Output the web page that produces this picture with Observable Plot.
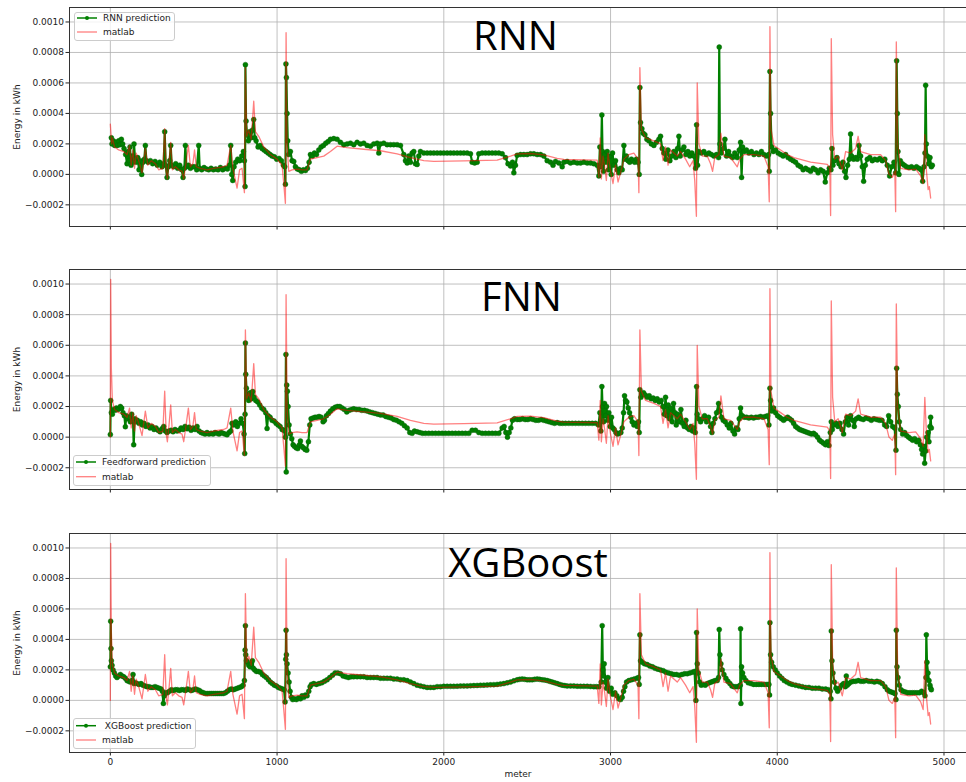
<!DOCTYPE html>
<html><head><meta charset="utf-8">
<script src="https://cdn.jsdelivr.net/npm/d3@7"></script>
<script src="https://cdn.jsdelivr.net/npm/@observablehq/plot@0.6"></script>
<style>
body{margin:0;background:#fff;}
#fig{position:relative;width:966px;height:782px;overflow:hidden;background:#fff;font-family:"DejaVu Sans",sans-serif;}
.panel{position:absolute;left:0;}
.title{position:absolute;font-family:"Open Sans",sans-serif;font-size:40px;line-height:40px;color:#000;transform:translateX(-50%);white-space:nowrap;}
.legend{position:absolute;}
</style></head><body><div id="fig"></div>
<script>
// ---------------- data (x in meter, y in kWh) ----------------
const xTicks = [0, 1000, 2000, 3000, 4000, 5000];
const yTicks = [-0.0002, 0, 0.0002, 0.0004, 0.0006, 0.0008, 0.0010];
const xDomain = [-245, 5135];
const yDomain = [-0.000342, 0.001095];
const titles = ["RNN", "FNN", "XGBoost"];
const predLabels = ["RNN prediction", "Feedforward prediction", " XGBoost prediction"];
const refLabel = "matlab";

const matlab = [[0,0],[2,10.3e-4],[6,4.5e-4],[12,2.4e-4],[25,1.8e-4],[50,1.6e-4],[80,1.5e-4],[100,1.3e-4],[115,1.9e-4],[125,0.6e-4],[135,1.6e-4],[145,0.4e-4],[155,1.4e-4],[170,0.9e-4],[190,0.1e-4],[210,1.7e-4],[225,0.6e-4],[245,0.9e-4],[270,0.7e-4],[290,0.3e-4],[315,0.4e-4],[326,3.0e-4],[335,0.2e-4],[342,-0.3e-4],[352,0.8e-4],[362,2.1e-4],[372,0.3e-4],[390,0.5e-4],[410,0.3e-4],[430,0.2e-4],[440,-0.3e-4],[452,0.6e-4],[468,1.9e-4],[480,0.5e-4],[495,0.7e-4],[505,1.6e-4],[515,0.5e-4],[540,0.4e-4],[580,0.3e-4],[620,0.4e-4],[680,0.5e-4],[700,0.6e-4],[722,1.9e-4],[735,0.4e-4],[760,-0.9e-4],[775,0.3e-4],[790,0.4e-4],[804,-1.2e-4],[810,7.0e-4],[818,2.5e-4],[830,2.9e-4],[845,2.3e-4],[860,4.8e-4],[870,2.8e-4],[890,2.5e-4],[920,1.8e-4],[960,1.3e-4],[1000,1.0e-4],[1030,0.6e-4],[1040,-0.6e-4],[1050,-1.9e-4],[1054,9.3e-4],[1060,2.0e-4],[1070,0.2e-4],[1090,0.3e-4],[1120,0.35e-4],[1150,0.3e-4],[1180,0.3e-4],[1200,1.0e-4],[1240,1.1e-4],[1280,1.2e-4],[1320,1.5e-4],[1360,1.85e-4],[1420,1.75e-4],[1520,1.65e-4],[1620,1.55e-4],[1720,1.35e-4],[1800,1.1e-4],[1880,0.9e-4],[1940,0.85e-4],[2120,0.88e-4],[2320,0.93e-4],[2400,1.2e-4],[2440,1.35e-4],[2520,1.37e-4],[2600,1.28e-4],[2680,1.05e-4],[2720,0.98e-4],[2920,0.94e-4],[2930,-0.2e-4],[2938,2.4e-4],[2945,-0.3e-4],[2955,1.2e-4],[2965,0.5e-4],[2975,-0.4e-4],[2985,1.4e-4],[3000,0.2e-4],[3015,-0.6e-4],[3030,0.6e-4],[3045,-0.5e-4],[3060,0.1e-4],[3080,1.0e-4],[3110,1.3e-4],[3140,1.4e-4],[3165,1.0e-4],[3170,-1.2e-4],[3176,7.0e-4],[3185,3.0e-4],[3210,2.4e-4],[3260,2.2e-4],[3300,2.0e-4],[3315,0.9e-4],[3330,1.8e-4],[3345,0.6e-4],[3360,1.6e-4],[3380,1.4e-4],[3400,1.2e-4],[3420,1.5e-4],[3450,1.0e-4],[3475,0.5e-4],[3495,0.9e-4],[3505,-0.4e-4],[3515,-2.75e-4],[3520,6.0e-4],[3530,2.0e-4],[3550,1.2e-4],[3580,1.2e-4],[3600,0.7e-4],[3612,0.2e-4],[3625,1.1e-4],[3650,1.3e-4],[3662,2.7e-4],[3680,1.2e-4],[3720,1.1e-4],[3760,0.5e-4],[3775,1.0e-4],[3800,1.3e-4],[3860,1.3e-4],[3920,1.2e-4],[3945,0.5e-4],[3952,-1.8e-4],[3956,9.7e-4],[3962,3.0e-4],[3980,1.9e-4],[4020,1.6e-4],[4060,1.3e-4],[4100,1.1e-4],[4200,0.8e-4],[4300,0.65e-4],[4315,0.4e-4],[4320,-2.7e-4],[4324,8.9e-4],[4332,2.6e-4],[4345,1.0e-4],[4365,1.2e-4],[4390,0.3e-4],[4410,1.5e-4],[4440,1.4e-4],[4470,1.7e-4],[4485,2.5e-4],[4500,1.5e-4],[4560,1.3e-4],[4620,1.3e-4],[4650,0.9e-4],[4670,0.0],[4690,-0.2e-4],[4705,0.2e-4],[4710,-2.45e-4],[4714,8.7e-4],[4722,2.0e-4],[4740,0.4e-4],[4790,0.3e-4],[4830,0.35e-4],[4860,-0.1e-4],[4875,-0.6e-4],[4885,2.6e-4],[4895,0.2e-4],[4905,-1.0e-4],[4912,-0.8e-4],[4920,-1.55e-4]];

const matlabRnnStart = [[0,3.3e-4],[4,2.6e-4],[8,2.0e-4]];

const rnn = [[6,2.4e-4],[10,2.0e-4],[18,2.2e-4],[26,1.9e-4],[34,2.1e-4],[42,1.9e-4],[50,2.2e-4],[58,1.95e-4],[66,2.3e-4],[74,2.0e-4],[82,1.7e-4],[92,1.3e-4],[100,0.7e-4],[106,1.5e-4],[112,0.9e-4],[118,1.8e-4],[124,0.6e-4],[130,1.2e-4],[136,0.8e-4],[142,2.0e-4],[148,1.0e-4],[156,0.8e-4],[164,1.1e-4],[172,0.3e-4],[180,0.9e-4],[188,0.0],[196,0.8e-4],[204,1.0e-4],[210,1.9e-4],[216,0.9e-4],[226,0.8e-4],[240,0.9e-4],[254,0.7e-4],[268,0.85e-4],[282,0.6e-4],[296,0.8e-4],[310,0.5e-4],[320,0.7e-4],[326,2.8e-4],[332,0.6e-4],[340,-0.2e-4],[348,0.5e-4],[356,0.9e-4],[362,1.9e-4],[368,0.6e-4],[380,0.5e-4],[392,0.7e-4],[404,0.4e-4],[416,0.6e-4],[428,0.3e-4],[436,-0.2e-4],[444,0.4e-4],[450,1.9e-4],[456,0.5e-4],[468,0.6e-4],[480,0.4e-4],[494,0.5e-4],[506,0.5e-4],[518,0.3e-4],[530,1.9e-4],[536,0.4e-4],[548,0.3e-4],[562,0.45e-4],[576,0.35e-4],[590,0.3e-4],[604,0.4e-4],[618,0.3e-4],[632,0.35e-4],[646,0.3e-4],[660,0.45e-4],[674,0.3e-4],[688,0.4e-4],[702,0.35e-4],[714,0.6e-4],[722,1.9e-4],[728,0.0],[734,-0.4e-4],[742,0.5e-4],[752,0.8e-4],[764,1.0e-4],[776,0.9e-4],[788,1.2e-4],[798,1.5e-4],[804,0.9e-4],[808,-0.8e-4],[810,7.2e-4],[814,3.5e-4],[820,2.6e-4],[828,2.2e-4],[836,2.8e-4],[844,2.4e-4],[852,2.9e-4],[860,3.6e-4],[866,2.4e-4],[874,2.2e-4],[886,1.8e-4],[898,1.9e-4],[910,1.7e-4],[922,1.6e-4],[934,1.5e-4],[946,1.4e-4],[958,1.3e-4],[970,1.2e-4],[984,1.15e-4],[998,1.0e-4],[1012,1.05e-4],[1026,0.9e-4],[1038,0.6e-4],[1046,0.5e-4],[1050,-0.65e-4],[1053,7.25e-4],[1056,6.35e-4],[1060,4.0e-4],[1064,2.2e-4],[1070,1.3e-4],[1080,1.5e-4],[1090,0.9e-4],[1100,0.85e-4],[1110,0.5e-4],[1122,0.35e-4],[1134,0.3e-4],[1146,0.2e-4],[1158,0.3e-4],[1170,0.25e-4],[1182,0.4e-4],[1192,0.8e-4],[1200,1.3e-4],[1212,1.2e-4],[1224,1.4e-4],[1236,1.3e-4],[1250,1.6e-4],[1264,1.8e-4],[1278,1.9e-4],[1292,2.05e-4],[1306,2.15e-4],[1320,2.3e-4],[1340,2.35e-4],[1360,2.3e-4],[1380,2.1e-4],[1400,1.95e-4],[1420,2.0e-4],[1440,2.05e-4],[1460,1.95e-4],[1480,2.1e-4],[1500,2.0e-4],[1520,2.05e-4],[1540,1.9e-4],[1560,1.85e-4],[1580,2.0e-4],[1600,2.05e-4],[1610,1.4e-4],[1620,2.0e-4],[1640,2.05e-4],[1660,1.95e-4],[1680,1.95e-4],[1700,1.95e-4],[1720,1.95e-4],[1740,1.9e-4],[1760,1.3e-4],[1770,0.9e-4],[1780,0.75e-4],[1790,1.2e-4],[1800,0.8e-4],[1810,1.4e-4],[1820,1.5e-4],[1830,0.7e-4],[1840,0.65e-4],[1850,1.2e-4],[1860,1.5e-4],[1880,1.4e-4],[1900,1.4e-4],[1920,1.4e-4],[1940,1.4e-4],[1960,1.4e-4],[1980,1.4e-4],[2000,1.4e-4],[2020,1.4e-4],[2040,1.4e-4],[2060,1.4e-4],[2080,1.4e-4],[2100,1.4e-4],[2120,1.4e-4],[2140,1.4e-4],[2160,1.35e-4],[2170,0.8e-4],[2185,0.75e-4],[2200,0.8e-4],[2210,1.35e-4],[2230,1.4e-4],[2250,1.4e-4],[2270,1.4e-4],[2290,1.4e-4],[2310,1.4e-4],[2330,1.4e-4],[2350,1.35e-4],[2370,1.1e-4],[2385,0.7e-4],[2400,0.55e-4],[2412,0.8e-4],[2420,0.1e-4],[2430,0.6e-4],[2440,1.25e-4],[2460,1.3e-4],[2480,1.3e-4],[2500,1.3e-4],[2520,1.35e-4],[2540,1.35e-4],[2560,1.3e-4],[2580,1.3e-4],[2600,1.2e-4],[2620,0.9e-4],[2640,0.8e-4],[2655,0.6e-4],[2670,0.85e-4],[2690,0.75e-4],[2710,0.5e-4],[2720,0.8e-4],[2740,0.85e-4],[2760,0.75e-4],[2780,0.8e-4],[2800,0.75e-4],[2820,0.75e-4],[2840,0.8e-4],[2860,0.75e-4],[2880,0.75e-4],[2900,0.7e-4],[2920,0.6e-4],[2930,-0.1e-4],[2936,1.8e-4],[2942,0.5e-4],[2948,3.9e-4],[2952,1.5e-4],[2958,0.2e-4],[2964,1.3e-4],[2972,0.8e-4],[2980,1.5e-4],[2988,0.3e-4],[2996,1.2e-4],[3004,0.0],[3012,1.4e-4],[3020,0.6e-4],[3030,0.9e-4],[3040,0.3e-4],[3050,0.1e-4],[3060,0.4e-4],[3070,0.3e-4],[3080,1.9e-4],[3086,1.0e-4],[3095,1.2e-4],[3105,0.9e-4],[3115,0.8e-4],[3125,1.0e-4],[3135,0.9e-4],[3145,0.8e-4],[3155,1.0e-4],[3165,0.8e-4],[3172,0.0],[3176,5.7e-4],[3180,3.4e-4],[3188,3.0e-4],[3196,2.7e-4],[3206,2.6e-4],[3218,2.3e-4],[3230,2.2e-4],[3245,2.0e-4],[3260,1.9e-4],[3275,2.1e-4],[3290,2.3e-4],[3300,2.5e-4],[3310,1.7e-4],[3320,1.4e-4],[3332,1.0e-4],[3344,1.6e-4],[3356,0.9e-4],[3368,1.2e-4],[3380,1.5e-4],[3392,1.1e-4],[3402,1.7e-4],[3410,2.5e-4],[3418,1.2e-4],[3428,1.6e-4],[3440,1.8e-4],[3452,1.3e-4],[3464,1.5e-4],[3476,1.2e-4],[3488,1.4e-4],[3500,1.2e-4],[3510,0.4e-4],[3516,3.25e-4],[3522,0.6e-4],[3530,1.5e-4],[3545,1.4e-4],[3560,1.5e-4],[3575,1.3e-4],[3590,1.4e-4],[3605,1.3e-4],[3620,1.2e-4],[3635,1.3e-4],[3648,1.1e-4],[3652,8.35e-4],[3656,2.0e-4],[3664,1.4e-4],[3676,1.7e-4],[3686,2.3e-4],[3696,1.2e-4],[3708,1.5e-4],[3720,1.2e-4],[3732,1.1e-4],[3745,1.4e-4],[3760,1.1e-4],[3772,1.6e-4],[3780,2.1e-4],[3786,-0.2e-4],[3792,1.8e-4],[3802,1.5e-4],[3815,1.6e-4],[3830,1.4e-4],[3845,1.5e-4],[3860,1.3e-4],[3875,1.4e-4],[3890,1.3e-4],[3905,1.5e-4],[3920,1.3e-4],[3935,1.2e-4],[3948,1.3e-4],[3952,0.2e-4],[3956,6.75e-4],[3960,4.0e-4],[3966,1.8e-4],[3976,1.5e-4],[3990,1.6e-4],[4005,1.4e-4],[4020,1.3e-4],[4035,1.2e-4],[4050,1.3e-4],[4065,1.1e-4],[4080,1.0e-4],[4095,0.9e-4],[4110,0.8e-4],[4125,0.6e-4],[4140,0.5e-4],[4155,0.3e-4],[4170,0.4e-4],[4185,0.3e-4],[4200,0.2e-4],[4215,0.4e-4],[4230,0.3e-4],[4245,0.1e-4],[4260,0.3e-4],[4275,0.2e-4],[4288,-0.5e-4],[4300,0.1e-4],[4312,0.4e-4],[4322,0.3e-4],[4328,1.7e-4],[4334,0.6e-4],[4345,0.9e-4],[4358,1.1e-4],[4370,0.7e-4],[4382,0.5e-4],[4394,0.8e-4],[4404,0.2e-4],[4412,-0.2e-4],[4422,0.6e-4],[4432,1.0e-4],[4440,2.65e-4],[4446,1.2e-4],[4458,1.0e-4],[4470,1.1e-4],[4480,1.0e-4],[4490,1.9e-4],[4500,1.2e-4],[4510,0.5e-4],[4518,-0.45e-4],[4528,0.6e-4],[4540,1.0e-4],[4555,1.1e-4],[4570,0.9e-4],[4585,1.0e-4],[4600,0.95e-4],[4615,1.05e-4],[4630,0.9e-4],[4645,1.0e-4],[4660,0.6e-4],[4674,-0.1e-4],[4686,0.5e-4],[4700,0.8e-4],[4710,0.1e-4],[4716,7.45e-4],[4720,4.0e-4],[4724,1.5e-4],[4730,0.0],[4738,0.9e-4],[4750,0.7e-4],[4762,0.6e-4],[4775,0.5e-4],[4790,0.45e-4],[4805,0.5e-4],[4820,0.4e-4],[4835,0.5e-4],[4850,0.4e-4],[4862,0.3e-4],[4872,-0.45e-4],[4880,0.5e-4],[4886,1.4e-4],[4890,5.85e-4],[4894,2.0e-4],[4900,1.2e-4],[4908,0.7e-4],[4916,1.1e-4],[4924,0.5e-4],[4930,0.6e-4]];

const fnn = [[0,0.17e-4],[2,2.4e-4],[6,1.6e-4],[12,1.5e-4],[20,1.8e-4],[28,1.75e-4],[36,1.9e-4],[44,1.8e-4],[52,1.85e-4],[60,2.0e-4],[68,1.9e-4],[76,1.6e-4],[84,1.4e-4],[90,0.68e-4],[96,1.4e-4],[104,1.2e-4],[112,1.3e-4],[120,1.0e-4],[128,1.5e-4],[136,1.1e-4],[140,-0.5e-4],[146,1.2e-4],[154,1.0e-4],[162,1.1e-4],[172,0.9e-4],[182,1.0e-4],[192,0.8e-4],[202,0.9e-4],[214,0.7e-4],[226,0.8e-4],[238,0.6e-4],[250,0.7e-4],[262,0.5e-4],[274,0.6e-4],[286,0.45e-4],[298,0.35e-4],[310,0.55e-4],[320,0.7e-4],[330,0.4e-4],[340,0.3e-4],[352,0.4e-4],[364,0.45e-4],[376,0.35e-4],[388,0.5e-4],[400,0.4e-4],[412,0.45e-4],[424,0.6e-4],[436,0.5e-4],[448,0.7e-4],[460,0.55e-4],[472,0.65e-4],[484,0.45e-4],[496,0.6e-4],[508,0.5e-4],[520,0.7e-4],[532,0.4e-4],[544,0.3e-4],[556,0.25e-4],[568,0.2e-4],[580,0.3e-4],[592,0.2e-4],[604,0.25e-4],[616,0.2e-4],[628,0.3e-4],[640,0.25e-4],[652,0.2e-4],[664,0.3e-4],[676,0.25e-4],[688,0.2e-4],[700,0.15e-4],[712,0.3e-4],[722,0.4e-4],[730,0.9e-4],[740,0.8e-4],[752,1.0e-4],[762,0.7e-4],[772,0.9e-4],[784,1.2e-4],[794,0.9e-4],[802,0.2e-4],[806,-1.07e-4],[808,1.5e-4],[810,6.15e-4],[812,4.1e-4],[816,3.2e-4],[822,2.6e-4],[830,2.4e-4],[838,2.9e-4],[846,2.5e-4],[854,2.98e-4],[862,2.6e-4],[872,2.4e-4],[884,2.3e-4],[896,2.1e-4],[908,1.9e-4],[920,1.8e-4],[932,1.6e-4],[940,0.57e-4],[946,1.4e-4],[958,1.3e-4],[970,1.1e-4],[982,1.05e-4],[994,0.9e-4],[1006,0.8e-4],[1018,0.7e-4],[1030,0.5e-4],[1040,0.45e-4],[1050,0.0],[1053,5.4e-4],[1055,-2.27e-4],[1058,3.4e-4],[1062,3.0e-4],[1066,2.0e-4],[1072,0.8e-4],[1080,0.2e-4],[1088,-0.1e-4],[1096,-0.5e-4],[1104,-0.6e-4],[1114,-0.7e-4],[1124,-0.75e-4],[1134,-0.5e-4],[1140,-0.25e-4],[1148,-0.6e-4],[1158,-0.7e-4],[1168,-0.8e-4],[1178,-0.85e-4],[1188,-0.3e-4],[1196,0.8e-4],[1204,1.2e-4],[1216,1.25e-4],[1228,1.3e-4],[1240,1.3e-4],[1252,1.35e-4],[1264,1.3e-4],[1276,1.0e-4],[1284,1.1e-4],[1296,1.4e-4],[1308,1.55e-4],[1320,1.7e-4],[1334,1.85e-4],[1348,1.95e-4],[1362,2.0e-4],[1376,2.0e-4],[1390,1.9e-4],[1404,1.8e-4],[1418,1.65e-4],[1432,1.75e-4],[1446,1.8e-4],[1460,1.85e-4],[1476,1.8e-4],[1492,1.8e-4],[1508,1.75e-4],[1524,1.75e-4],[1540,1.7e-4],[1556,1.65e-4],[1572,1.6e-4],[1588,1.55e-4],[1604,1.5e-4],[1620,1.45e-4],[1636,1.45e-4],[1652,1.35e-4],[1668,1.3e-4],[1684,1.25e-4],[1700,1.15e-4],[1716,1.1e-4],[1732,1.0e-4],[1748,0.9e-4],[1764,0.75e-4],[1780,0.6e-4],[1796,0.3e-4],[1810,0.25e-4],[1824,0.4e-4],[1840,0.35e-4],[1856,0.3e-4],[1872,0.25e-4],[1890,0.25e-4],[1910,0.25e-4],[1930,0.25e-4],[1950,0.25e-4],[1970,0.25e-4],[1990,0.25e-4],[2010,0.25e-4],[2030,0.25e-4],[2050,0.25e-4],[2070,0.25e-4],[2090,0.25e-4],[2110,0.25e-4],[2130,0.25e-4],[2150,0.25e-4],[2170,0.45e-4],[2190,0.45e-4],[2210,0.3e-4],[2230,0.25e-4],[2250,0.25e-4],[2270,0.25e-4],[2290,0.25e-4],[2310,0.25e-4],[2330,0.25e-4],[2350,0.6e-4],[2362,0.7e-4],[2372,0.3e-4],[2382,0.0],[2392,0.3e-4],[2402,0.6e-4],[2412,1.1e-4],[2424,1.2e-4],[2440,1.15e-4],[2456,1.15e-4],[2472,1.2e-4],[2488,1.15e-4],[2504,1.15e-4],[2520,1.2e-4],[2536,1.15e-4],[2552,1.1e-4],[2568,1.1e-4],[2584,1.15e-4],[2600,1.1e-4],[2616,1.05e-4],[2632,1.0e-4],[2648,0.95e-4],[2664,0.9e-4],[2680,0.95e-4],[2696,0.9e-4],[2712,0.9e-4],[2730,0.9e-4],[2750,0.9e-4],[2770,0.9e-4],[2790,0.9e-4],[2810,0.9e-4],[2830,0.9e-4],[2850,0.9e-4],[2870,0.9e-4],[2890,0.9e-4],[2910,0.9e-4],[2928,0.8e-4],[2936,1.6e-4],[2942,0.4e-4],[2948,3.3e-4],[2952,2.0e-4],[2958,1.0e-4],[2964,2.2e-4],[2970,1.4e-4],[2976,2.0e-4],[2982,1.1e-4],[2990,1.6e-4],[2998,0.7e-4],[3006,1.3e-4],[3014,0.6e-4],[3022,0.5e-4],[3032,0.3e-4],[3042,0.2e-4],[3052,0.25e-4],[3062,0.3e-4],[3070,0.6e-4],[3078,1.6e-4],[3084,2.7e-4],[3090,2.4e-4],[3098,2.3e-4],[3106,1.9e-4],[3114,1.6e-4],[3122,1.3e-4],[3130,1.0e-4],[3140,0.8e-4],[3150,0.9e-4],[3160,0.7e-4],[3168,1.0e-4],[3172,0.3e-4],[3176,3.1e-4],[3182,2.6e-4],[3190,2.8e-4],[3198,2.9e-4],[3208,2.75e-4],[3220,2.6e-4],[3232,2.7e-4],[3244,2.5e-4],[3256,2.55e-4],[3268,2.4e-4],[3280,2.5e-4],[3292,2.3e-4],[3304,2.4e-4],[3314,2.0e-4],[3322,1.5e-4],[3330,2.6e-4],[3338,1.4e-4],[3346,2.1e-4],[3354,1.2e-4],[3362,1.9e-4],[3370,1.0e-4],[3378,2.2e-4],[3386,1.6e-4],[3394,0.8e-4],[3402,1.5e-4],[3412,1.0e-4],[3422,1.8e-4],[3432,0.9e-4],[3442,0.7e-4],[3452,1.1e-4],[3462,0.6e-4],[3472,0.5e-4],[3482,0.7e-4],[3492,0.4e-4],[3500,0.6e-4],[3508,0.3e-4],[3516,3.3e-4],[3520,1.5e-4],[3528,1.2e-4],[3540,1.0e-4],[3552,1.2e-4],[3564,1.4e-4],[3576,1.0e-4],[3588,1.3e-4],[3600,0.7e-4],[3608,0.3e-4],[3616,0.9e-4],[3626,1.2e-4],[3636,1.6e-4],[3648,2.2e-4],[3656,1.7e-4],[3666,1.3e-4],[3676,1.1e-4],[3688,1.0e-4],[3700,0.8e-4],[3712,0.6e-4],[3722,0.9e-4],[3734,0.4e-4],[3744,0.2e-4],[3754,0.6e-4],[3764,0.5e-4],[3772,1.2e-4],[3780,1.9e-4],[3790,1.4e-4],[3802,1.3e-4],[3816,1.3e-4],[3830,1.25e-4],[3844,1.3e-4],[3858,1.25e-4],[3872,1.3e-4],[3886,1.3e-4],[3900,1.35e-4],[3914,1.3e-4],[3928,1.35e-4],[3942,1.4e-4],[3950,0.8e-4],[3956,3.2e-4],[3960,2.4e-4],[3968,1.7e-4],[3978,1.9e-4],[3990,1.6e-4],[4002,1.4e-4],[4014,1.3e-4],[4026,1.2e-4],[4038,1.1e-4],[4050,1.2e-4],[4062,1.3e-4],[4074,1.2e-4],[4086,1.1e-4],[4098,0.9e-4],[4110,0.7e-4],[4122,0.6e-4],[4134,0.5e-4],[4146,0.45e-4],[4158,0.4e-4],[4170,0.35e-4],[4182,0.3e-4],[4194,0.25e-4],[4206,0.2e-4],[4218,0.25e-4],[4230,0.15e-4],[4242,0.0],[4254,-0.2e-4],[4266,-0.3e-4],[4278,-0.4e-4],[4290,-0.5e-4],[4300,-0.3e-4],[4310,-0.55e-4],[4318,0.3e-4],[4324,1.0e-4],[4330,0.5e-4],[4340,0.8e-4],[4352,0.9e-4],[4364,0.7e-4],[4376,0.9e-4],[4388,0.5e-4],[4398,0.2e-4],[4408,1.0e-4],[4418,1.3e-4],[4428,0.8e-4],[4440,1.4e-4],[4452,1.1e-4],[4462,0.7e-4],[4474,1.2e-4],[4488,1.3e-4],[4500,1.2e-4],[4516,1.15e-4],[4532,1.25e-4],[4548,1.2e-4],[4564,1.1e-4],[4580,1.2e-4],[4596,1.15e-4],[4612,1.1e-4],[4628,1.1e-4],[4644,0.8e-4],[4656,0.7e-4],[4668,1.4e-4],[4680,1.0e-4],[4692,0.7e-4],[4704,0.6e-4],[4712,-0.85e-4],[4716,4.5e-4],[4720,2.8e-4],[4726,2.0e-4],[4732,1.0e-4],[4740,0.5e-4],[4752,0.2e-4],[4764,0.3e-4],[4776,0.1e-4],[4788,0.0],[4800,-0.1e-4],[4812,-0.2e-4],[4824,-0.1e-4],[4836,-0.3e-4],[4848,-0.2e-4],[4858,-0.5e-4],[4866,-0.8e-4],[4872,-1.1e-4],[4878,-0.6e-4],[4884,-1.7e-4],[4890,-0.9e-4],[4896,0.0],[4904,0.3e-4],[4910,-0.3e-4],[4916,0.7e-4],[4920,1.3e-4],[4924,0.6e-4]];

const xgb = [[0,2.2e-4],[2,5.2e-4],[4,3.4e-4],[6,2.6e-4],[10,2.3e-4],[16,2.0e-4],[24,1.8e-4],[32,1.6e-4],[40,1.5e-4],[50,1.6e-4],[60,1.7e-4],[70,1.6e-4],[80,1.55e-4],[90,1.45e-4],[100,1.3e-4],[110,1.25e-4],[120,1.2e-4],[130,1.3e-4],[136,1.7e-4],[142,1.1e-4],[150,1.15e-4],[160,1.1e-4],[172,1.05e-4],[184,1.1e-4],[196,1.0e-4],[208,0.95e-4],[220,0.9e-4],[232,0.9e-4],[244,0.85e-4],[256,0.85e-4],[268,0.9e-4],[280,0.85e-4],[292,0.8e-4],[304,0.75e-4],[312,0.6e-4],[318,-0.2e-4],[324,0.3e-4],[332,0.5e-4],[342,0.5e-4],[354,0.6e-4],[366,0.7e-4],[378,0.65e-4],[390,0.7e-4],[402,0.7e-4],[414,0.65e-4],[426,0.7e-4],[438,0.7e-4],[450,0.65e-4],[462,0.75e-4],[474,0.7e-4],[486,0.65e-4],[498,0.7e-4],[510,0.75e-4],[522,0.7e-4],[534,0.65e-4],[546,0.55e-4],[558,0.5e-4],[570,0.45e-4],[582,0.45e-4],[594,0.45e-4],[606,0.45e-4],[618,0.45e-4],[630,0.45e-4],[642,0.45e-4],[654,0.45e-4],[666,0.45e-4],[678,0.45e-4],[690,0.5e-4],[702,0.6e-4],[714,0.7e-4],[726,0.75e-4],[738,0.7e-4],[750,0.75e-4],[762,0.8e-4],[774,0.85e-4],[786,0.9e-4],[796,1.0e-4],[804,1.3e-4],[808,3.3e-4],[810,4.9e-4],[812,3.0e-4],[816,2.6e-4],[822,2.5e-4],[830,2.3e-4],[838,2.2e-4],[846,2.4e-4],[852,2.6e-4],[858,2.1e-4],[866,2.0e-4],[876,1.9e-4],[888,1.9e-4],[900,1.85e-4],[912,1.7e-4],[924,1.6e-4],[936,1.5e-4],[948,1.35e-4],[960,1.2e-4],[972,1.1e-4],[984,1.0e-4],[996,0.95e-4],[1008,0.85e-4],[1020,0.8e-4],[1032,0.75e-4],[1042,0.7e-4],[1048,-0.1e-4],[1052,2.7e-4],[1054,4.6e-4],[1056,3.0e-4],[1060,2.4e-4],[1066,1.8e-4],[1072,1.2e-4],[1078,0.6e-4],[1086,0.2e-4],[1094,0.05e-4],[1104,0.1e-4],[1116,0.05e-4],[1128,0.15e-4],[1140,0.1e-4],[1150,0.3e-4],[1160,0.2e-4],[1170,0.35e-4],[1180,0.3e-4],[1190,0.6e-4],[1198,0.9e-4],[1206,1.05e-4],[1220,1.1e-4],[1236,1.05e-4],[1252,1.1e-4],[1268,1.15e-4],[1284,1.25e-4],[1300,1.35e-4],[1316,1.5e-4],[1332,1.65e-4],[1348,1.8e-4],[1364,1.8e-4],[1380,1.75e-4],[1396,1.6e-4],[1412,1.55e-4],[1428,1.5e-4],[1444,1.55e-4],[1460,1.55e-4],[1480,1.55e-4],[1500,1.55e-4],[1520,1.55e-4],[1540,1.5e-4],[1560,1.5e-4],[1580,1.5e-4],[1600,1.5e-4],[1620,1.45e-4],[1640,1.45e-4],[1660,1.45e-4],[1680,1.45e-4],[1700,1.4e-4],[1720,1.4e-4],[1740,1.35e-4],[1760,1.35e-4],[1780,1.3e-4],[1800,1.2e-4],[1820,1.1e-4],[1840,1.0e-4],[1860,0.95e-4],[1880,0.9e-4],[1900,0.85e-4],[1920,0.85e-4],[1940,0.85e-4],[1960,0.9e-4],[1980,0.9e-4],[2000,0.92e-4],[2020,0.92e-4],[2040,0.92e-4],[2060,0.92e-4],[2080,0.93e-4],[2100,0.94e-4],[2120,0.95e-4],[2140,0.95e-4],[2160,0.96e-4],[2180,0.97e-4],[2200,0.98e-4],[2220,0.99e-4],[2240,1.0e-4],[2260,1.01e-4],[2280,1.02e-4],[2300,1.03e-4],[2320,1.05e-4],[2340,1.07e-4],[2360,1.1e-4],[2380,1.15e-4],[2400,1.2e-4],[2420,1.28e-4],[2440,1.35e-4],[2455,1.38e-4],[2470,1.4e-4],[2485,1.38e-4],[2500,1.35e-4],[2515,1.35e-4],[2530,1.35e-4],[2545,1.38e-4],[2560,1.4e-4],[2575,1.38e-4],[2590,1.35e-4],[2605,1.33e-4],[2620,1.3e-4],[2635,1.25e-4],[2650,1.2e-4],[2665,1.15e-4],[2680,1.1e-4],[2695,1.05e-4],[2710,1.0e-4],[2725,0.97e-4],[2740,0.95e-4],[2760,0.95e-4],[2780,0.95e-4],[2800,0.93e-4],[2820,0.92e-4],[2840,0.92e-4],[2860,0.92e-4],[2880,0.91e-4],[2900,0.9e-4],[2915,0.9e-4],[2930,0.9e-4],[2944,1.2e-4],[2950,4.9e-4],[2954,2.0e-4],[2958,1.6e-4],[2962,2.4e-4],[2968,1.2e-4],[2976,0.8e-4],[2984,1.5e-4],[2994,0.6e-4],[3004,0.8e-4],[3014,0.4e-4],[3026,0.5e-4],[3038,0.3e-4],[3050,0.1e-4],[3060,0.05e-4],[3070,0.2e-4],[3078,0.6e-4],[3086,0.9e-4],[3096,1.2e-4],[3110,1.3e-4],[3126,1.35e-4],[3142,1.4e-4],[3158,1.45e-4],[3168,1.5e-4],[3172,1.05e-4],[3176,4.3e-4],[3180,2.6e-4],[3190,2.5e-4],[3204,2.4e-4],[3220,2.35e-4],[3236,2.25e-4],[3252,2.2e-4],[3268,2.1e-4],[3284,2.05e-4],[3300,2.0e-4],[3316,1.95e-4],[3332,1.85e-4],[3348,1.8e-4],[3364,1.75e-4],[3380,1.7e-4],[3396,1.7e-4],[3412,1.65e-4],[3428,1.7e-4],[3444,1.75e-4],[3460,1.75e-4],[3476,1.8e-4],[3492,1.85e-4],[3504,1.9e-4],[3512,0.0],[3516,4.45e-4],[3520,2.4e-4],[3526,1.8e-4],[3534,1.2e-4],[3544,1.0e-4],[3556,1.05e-4],[3568,1.0e-4],[3580,1.1e-4],[3592,1.15e-4],[3604,1.2e-4],[3616,1.25e-4],[3628,1.3e-4],[3640,1.3e-4],[3648,1.5e-4],[3652,4.65e-4],[3656,3.0e-4],[3662,2.4e-4],[3670,2.0e-4],[3680,1.7e-4],[3692,1.45e-4],[3704,1.25e-4],[3716,1.1e-4],[3728,0.95e-4],[3740,0.9e-4],[3752,0.9e-4],[3764,0.9e-4],[3774,0.95e-4],[3778,1.0e-4],[3780,4.7e-4],[3782,-0.2e-4],[3786,2.2e-4],[3792,1.8e-4],[3800,1.5e-4],[3812,1.3e-4],[3826,1.15e-4],[3842,1.1e-4],[3858,1.05e-4],[3874,1.05e-4],[3890,1.05e-4],[3906,1.05e-4],[3922,1.05e-4],[3938,1.05e-4],[3950,1.05e-4],[3954,0.35e-4],[3956,5.1e-4],[3960,3.0e-4],[3966,2.5e-4],[3976,2.2e-4],[3988,2.0e-4],[4000,1.8e-4],[4014,1.6e-4],[4028,1.45e-4],[4042,1.3e-4],[4058,1.2e-4],[4074,1.1e-4],[4090,1.05e-4],[4110,1.0e-4],[4130,0.95e-4],[4150,0.9e-4],[4170,0.85e-4],[4190,0.85e-4],[4210,0.8e-4],[4230,0.8e-4],[4250,0.8e-4],[4270,0.75e-4],[4290,0.75e-4],[4306,0.7e-4],[4318,0.6e-4],[4322,0.1e-4],[4324,4.55e-4],[4328,2.6e-4],[4334,1.8e-4],[4342,1.2e-4],[4352,0.8e-4],[4362,0.6e-4],[4374,0.8e-4],[4386,1.0e-4],[4398,1.1e-4],[4408,0.9e-4],[4414,1.6e-4],[4420,1.0e-4],[4430,1.1e-4],[4442,1.2e-4],[4456,1.25e-4],[4470,1.25e-4],[4486,1.3e-4],[4502,1.25e-4],[4518,1.25e-4],[4534,1.3e-4],[4550,1.25e-4],[4566,1.25e-4],[4582,1.2e-4],[4598,1.25e-4],[4614,1.2e-4],[4630,1.1e-4],[4646,0.9e-4],[4660,0.7e-4],[4672,0.6e-4],[4684,0.55e-4],[4696,0.5e-4],[4706,0.45e-4],[4712,0.05e-4],[4714,4.6e-4],[4718,2.2e-4],[4724,1.5e-4],[4732,1.0e-4],[4742,0.7e-4],[4754,0.6e-4],[4768,0.55e-4],[4782,0.5e-4],[4796,0.5e-4],[4810,0.5e-4],[4824,0.5e-4],[4838,0.5e-4],[4852,0.5e-4],[4866,0.6e-4],[4878,0.5e-4],[4886,0.3e-4],[4892,1.5e-4],[4894,4.3e-4],[4898,2.5e-4],[4904,1.8e-4],[4910,1.3e-4],[4916,1.0e-4],[4920,0.8e-4],[4924,0.7e-4]];

// ---------------- drawing ----------------
const fig = document.getElementById("fig");
const toRows = arr => arr.map(([x, y]) => ({x, y}));
const fmtY = d3.format(".4f");

function panel({pred, ref, showX, height, mt, mb, top}) {
  const P = toRows(pred), R = toRows(ref);
  const svg = Plot.plot({
    width: 966, height, marginLeft: 69, marginRight: 0, marginTop: mt, marginBottom: mb,
    style: {fontFamily: "'DejaVu Sans', sans-serif", fontSize: "9px", color: "#222", background: "transparent", overflow: "visible"},
    x: {domain: xDomain, ticks: xTicks, tickSize: 3.5, tickPadding: 3,
        tickFormat: showX ? d3.format("d") : () => "", label: showX ? "meter" : null,
        labelAnchor: "center", labelOffset: 24, labelArrow: "none"},
    y: {domain: yDomain, ticks: yTicks, tickSize: 3.5, tickPadding: 2, tickFormat: fmtY,
        label: "Energy in kWh", labelAnchor: "center", labelOffset: 56, labelArrow: "none"},
    marks: [
      Plot.ruleX(xTicks, {stroke: "#b0b0b0", strokeWidth: 0.8}),
      Plot.ruleY(yTicks, {stroke: "#b0b0b0", strokeWidth: 0.8}),
      Plot.line(P, {x: "x", y: "y", stroke: "green", strokeWidth: 2.2}),
      Plot.dot(P, {x: "x", y: "y", r: 2.5, fill: "green", stroke: "#0b5e0b", strokeWidth: 0.4}),
      Plot.line(R, {x: "x", y: "y", stroke: "red", strokeOpacity: 0.5, strokeWidth: 1.3}),
      Plot.ruleY([yDomain[0], yDomain[1]], {stroke: "#333", strokeWidth: 1}),
      Plot.ruleX([xDomain[0]], {stroke: "#333", strokeWidth: 1})
    ]
  });
  svg.classList.add("panel");
  svg.style.top = top + "px";
  fig.appendChild(svg);
}

function legend({left, top, w, h, rows, label}) {
  const s = d3.create("svg").attr("class", "legend").attr("width", w + 1).attr("height", h + 1)
    .style("left", left + "px").style("top", top + "px");
  s.append("rect").attr("x", 0.5).attr("y", 0.5).attr("width", w).attr("height", h).attr("rx", 2.5)
    .attr("fill", "white").attr("fill-opacity", 0.8).attr("stroke", "#cccccc").attr("stroke-width", 1);
  s.append("line").attr("x1", 3).attr("x2", 23).attr("y1", rows[0]).attr("y2", rows[0]).attr("stroke", "green").attr("stroke-width", 1.5);
  s.append("circle").attr("cx", 13).attr("cy", rows[0]).attr("r", 2).attr("fill", "green");
  s.append("line").attr("x1", 3).attr("x2", 23).attr("y1", rows[1]).attr("y2", rows[1]).attr("stroke", "red").attr("stroke-opacity", 0.5).attr("stroke-width", 1.3);
  [label, refLabel].forEach((t, i) => s.append("text").attr("x", 29).attr("y", rows[i]).attr("dy", "0.35em")
    .attr("font-family", "'DejaVu Sans', sans-serif").attr("font-size", 9).attr("fill", "#222")
    .attr("xml:space", "preserve").style("white-space", "pre").text(t));
  fig.appendChild(s.node());
}

function title(text, cx, top) {
  const d = document.createElement("div");
  d.className = "title"; d.textContent = text;
  d.style.left = cx + "px"; d.style.top = top + "px";
  fig.appendChild(d);
}

const matlabRnn = matlabRnnStart.concat(matlab.filter(d => d[0] >= 12));
panel({pred: rnn, ref: matlabRnn, showX: false, height: 264, mt: 7, mb: 38, top: 0});
panel({pred: fnn, ref: matlab, showX: false, height: 265, mt: 5, mb: 40, top: 264});
panel({pred: xgb, ref: matlab, showX: true, height: 253, mt: 4, mb: 30, top: 529});

legend({left: 74, top: 12, w: 100, h: 28, rows: [6, 20], label: predLabels[0]});
legend({left: 73, top: 455, w: 137, h: 30, rows: [7, 21.7], label: predLabels[1]});
legend({left: 73, top: 718, w: 122, h: 30, rows: [7.7, 22], label: predLabels[2]});

title(titles[0], 515.5, 14.5);
title(titles[1], 521.5, 275.5);
title(titles[2], 528, 541.5);
</script></body></html>
